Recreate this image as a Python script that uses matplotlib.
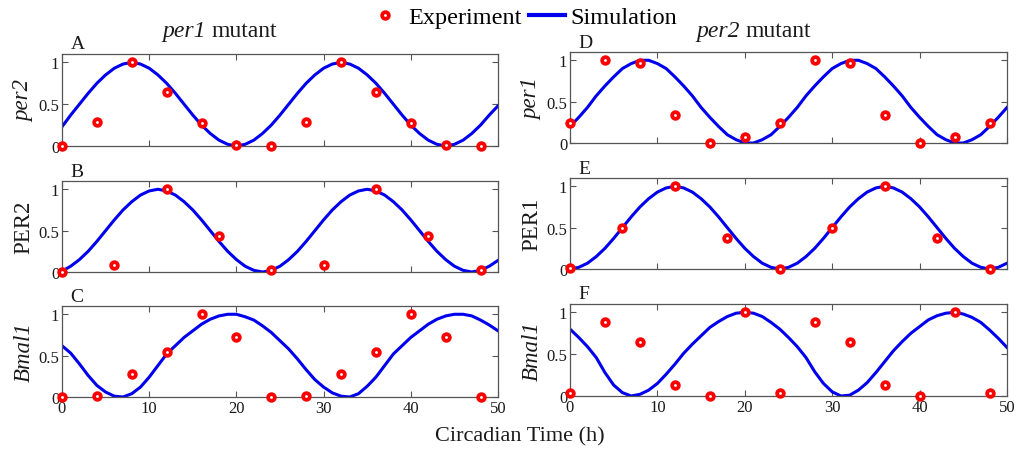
import matplotlib
matplotlib.use("Agg")
import matplotlib.pyplot as plt
from matplotlib.lines import Line2D


FIG_W, FIG_H = 1029, 452

plt.rcParams["font.family"] = ["Liberation Serif", "DejaVu Serif"]

# simulation time grid (h) and sampling times of the experiments
sim_t = list(range(51))
exp_t_4h = [0, 4, 8, 12, 16, 20, 24, 28, 32, 36, 40, 44, 48]
exp_t_6h = [0, 6, 12, 18, 24, 30, 36, 42, 48]

# per1 mutant
exp_per2 = [0.0, 0.29, 1.0, 0.64, 0.27, 0.01, 0.0, 0.29, 1.0, 0.64, 0.27, 0.01, 0.0]
sim_per2 = [0.23, 0.37, 0.50, 0.63, 0.75, 0.85, 0.93, 0.98, 1.00, 0.98,
            0.93, 0.85, 0.75, 0.63, 0.50, 0.37, 0.25, 0.15, 0.07, 0.02,
            0.00, 0.02, 0.07, 0.15, 0.25, 0.37, 0.50, 0.63, 0.75, 0.85,
            0.93, 0.98, 1.00, 0.98, 0.93, 0.85, 0.75, 0.63, 0.50, 0.37,
            0.25, 0.15, 0.07, 0.02, 0.00, 0.02, 0.07, 0.15, 0.25, 0.37,
            0.48]

exp_PER2 = [0.0, 0.08, 1.0, 0.44, 0.02, 0.08, 1.0, 0.44, 0.02]
sim_PER2 = [0.01, 0.07, 0.15, 0.25, 0.37, 0.50, 0.63, 0.75, 0.85, 0.93,
            0.98, 1.00, 0.98, 0.93, 0.85, 0.75, 0.63, 0.50, 0.37, 0.25,
            0.15, 0.07, 0.02, 0.00, 0.02, 0.07, 0.15, 0.25, 0.37, 0.50,
            0.63, 0.75, 0.85, 0.93, 0.98, 1.00, 0.98, 0.93, 0.85, 0.75,
            0.63, 0.50, 0.37, 0.25, 0.15, 0.07, 0.02, 0.00, 0.02, 0.07,
            0.14]

exp_bmal1_p1 = [0.0, 0.01, 0.28, 0.54, 1.0, 0.73, 0.0, 0.01, 0.28, 0.54, 1.0, 0.73, 0.0]
sim_bmal1_p1 = [0.62, 0.53, 0.40, 0.26, 0.14, 0.06, 0.01, 0.00, 0.04, 0.12,
                0.24, 0.38, 0.52, 0.62, 0.72, 0.80, 0.88, 0.94, 0.98, 1.00,
                1.00, 0.97, 0.93, 0.86, 0.78, 0.68, 0.58, 0.46, 0.33, 0.21,
                0.12, 0.05, 0.01, 0.00, 0.04, 0.13, 0.24, 0.38, 0.52, 0.62,
                0.72, 0.80, 0.88, 0.94, 0.98, 1.00, 1.00, 0.98, 0.93, 0.87,
                0.80]

# per2 mutant
exp_per1 = [0.24, 1.0, 0.97, 0.34, 0.0, 0.07, 0.24, 1.0, 0.97, 0.34, 0.0, 0.07, 0.24]
sim_per1 = [0.20, 0.31, 0.43, 0.57, 0.69, 0.80, 0.90, 0.96, 1.00, 1.00,
            0.96, 0.90, 0.80, 0.69, 0.57, 0.43, 0.31, 0.20, 0.10, 0.04,
            0.00, 0.00, 0.04, 0.10, 0.20, 0.31, 0.43, 0.57, 0.69, 0.80,
            0.90, 0.96, 1.00, 1.00, 0.96, 0.90, 0.80, 0.69, 0.57, 0.43,
            0.31, 0.20, 0.10, 0.04, 0.00, 0.00, 0.04, 0.10, 0.20, 0.31,
            0.43]

exp_PER1 = [0.01, 0.5, 1.0, 0.37, 0.0, 0.5, 1.0, 0.37, 0.0]
sim_PER1 = [0.00, 0.02, 0.07, 0.15, 0.25, 0.37, 0.50, 0.63, 0.75, 0.85,
            0.93, 0.98, 1.00, 0.98, 0.93, 0.85, 0.75, 0.63, 0.50, 0.37,
            0.25, 0.15, 0.07, 0.02, 0.00, 0.02, 0.07, 0.15, 0.25, 0.37,
            0.50, 0.63, 0.75, 0.85, 0.93, 0.98, 1.00, 0.98, 0.93, 0.85,
            0.75, 0.63, 0.50, 0.37, 0.25, 0.15, 0.07, 0.02, 0.00, 0.02,
            0.07]

exp_bmal1_p2 = [0.03, 0.88, 0.64, 0.13, 0.0, 1.0, 0.04, 0.88, 0.64, 0.13, 0.0, 1.0, 0.04]
sim_bmal1_p2 = [0.80, 0.70, 0.59, 0.46, 0.28, 0.13, 0.04, 0.00, 0.02, 0.07,
                0.15, 0.26, 0.38, 0.51, 0.62, 0.72, 0.82, 0.89, 0.95, 0.99,
                1.00, 0.99, 0.95, 0.88, 0.80, 0.70, 0.59, 0.46, 0.29, 0.15,
                0.05, 0.00, 0.01, 0.07, 0.16, 0.28, 0.41, 0.54, 0.65, 0.75,
                0.83, 0.91, 0.96, 0.99, 1.00, 0.98, 0.94, 0.88, 0.79, 0.69,
                0.58]

# panel: (letter, ylabel, italic?, exp times, exp values, sim values, pixel box l, t, r, b)
panels = [
    ("A", "per2", True, exp_t_4h, exp_per2, sim_per2, (62, 55, 498, 147)),
    ("B", "PER2", False, exp_t_6h, exp_PER2, sim_PER2, (62, 182, 498, 273)),
    ("C", "Bmal1", True, exp_t_4h, exp_bmal1_p1, sim_bmal1_p1, (62, 307, 498, 398)),
    ("D", "per1", True, exp_t_4h, exp_per1, sim_per1, (570, 53, 1007, 144)),
    ("E", "PER1", False, exp_t_6h, exp_PER1, sim_PER1, (570, 179, 1007, 270)),
    ("F", "Bmal1", True, exp_t_4h, exp_bmal1_p2, sim_bmal1_p2, (570, 305, 1007, 397)),
]

SPINE = "#555555"
TXT = "#1a1a1a"

fig = plt.figure(figsize=(FIG_W / 100, FIG_H / 100), dpi=100)

for letter, ylab, ital, et, ev, sv, (l, t, r, b) in panels:
    ax = fig.add_axes([l / FIG_W, 1 - b / FIG_H, (r - l) / FIG_W, (b - t) / FIG_H])
    ax.plot(sim_t, sv, color="#0000ee", lw=2.2, zorder=2)
    ax.plot(et, ev, ls="none", marker="o", ms=4.8, mew=2.7,
            mfc="white", mec="#ff0000", clip_on=False, zorder=3)
    ax.set_xlim(0, 50)
    ax.set_ylim(0, 1.1)
    ax.set_xticks([0, 10, 20, 30, 40, 50])
    ax.set_yticks([0, 0.5, 1])
    ax.set_yticklabels(["0", "0.5", "1"])
    ax.tick_params(direction="in", top=True, right=True, length=4,
                   width=0.8, color=SPINE, labelsize=12, labelcolor=TXT, pad=2)
    if letter not in ("C", "F"):
        ax.set_xticklabels([])
    for s in ax.spines.values():
        s.set_color(SPINE)
        s.set_linewidth(0.9)
    ax.set_ylabel(ylab, fontsize=16.5, color=TXT,
                  fontstyle="italic" if ital else "normal")
    ax.yaxis.set_label_coords(-0.063, 0.5)
    ax.text(0.02, 1.06, letter, transform=ax.transAxes, fontsize=14,
            color=TXT, ha="left", va="baseline")

# column titles: italic gene name + regular word
title_y = 1 - 37 / FIG_H
for gene, split_x in [("per1", 206), ("per2", 740)]:
    fig.text(split_x / FIG_W, title_y, gene, fontsize=17, fontstyle="italic",
             color=TXT, ha="right", va="baseline")
    fig.text((split_x + 6) / FIG_W, title_y, "mutant", fontsize=17,
             color=TXT, ha="left", va="baseline")

fig.text(0.505, 1 - 437 / FIG_H, "Circadian Time (h)", fontsize=16,
         color=TXT, ha="center", va="center")

handles = [
    Line2D([], [], ls="none", marker="o", ms=4.8, mew=2.7, mfc="white", mec="#ff0000"),
    Line2D([], [], color="#0000ee", lw=3),
]
fig.legend(handles, ["Experiment", "Simulation"], loc="center",
           bbox_to_anchor=(0.507, 1 - 18 / FIG_H), ncol=2, frameon=False,
           fontsize=17.5, handlelength=1.5, handletextpad=0.2, columnspacing=0.3,
           borderpad=0, borderaxespad=0)

fig.savefig("out.png", dpi=100)
plt.close(fig)
